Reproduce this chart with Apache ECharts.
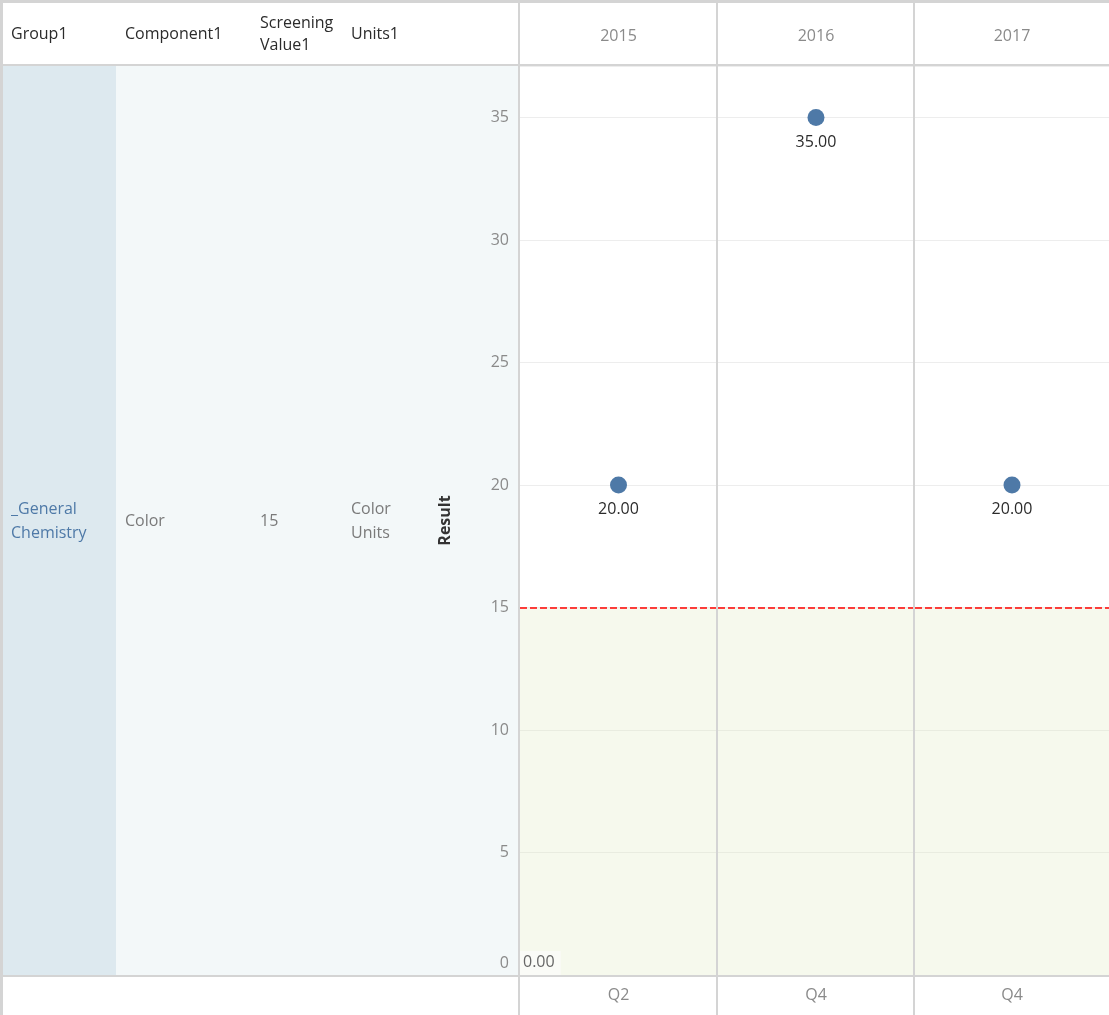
<!DOCTYPE html>
<html>
<head>
<meta charset="utf-8">
<title>Result by quarter</title>
<script src="https://cdn.jsdelivr.net/npm/echarts@6/dist/echarts.min.js"></script>
<style>
  html, body { margin: 0; padding: 0; background: #ffffff; }
  #chart { width: 1109px; height: 1015px; }
</style>
</head>
<body>
<div id="chart"></div>
<script>
// ---- data ----
const years = ['2015', '2016', '2017'];
const quarters = ['Q2', 'Q4', 'Q4'];
const results = [20, 35, 20];
const screeningValue = 15;
const bandMin = 0;

// table columns on the left
const headerLabels = ['Group1', 'Component1', 'Screening\nValue1', 'Units1'];
const rowValues = ['_General\nChemistry', 'Color', '15', 'Color\nUnits'];

// ---- layout ----
const FONT = '"Open Sans", sans-serif';
const W = 1109, H = 1015;
const TOP = 66, BOTTOM = 975;
const panelEdges = [519, 717, 914, 1109];
const Y_MAX = 37.1;

const chart = echarts.init(document.getElementById('chart'), null, { renderer: 'canvas' });

const grids = [], xAxes = [], yAxes = [], series = [];
for (let i = 0; i < years.length; i++) {
  const left = panelEdges[i] + 1;
  const width = panelEdges[i + 1] - left;
  grids.push({ left: left, top: TOP, width: width, height: BOTTOM - TOP, containLabel: false });

  // quarter along the bottom
  xAxes.push({
    type: 'category', gridIndex: i, position: 'bottom', data: [quarters[i]],
    axisLine: { show: false }, axisTick: { show: false }, splitLine: { show: false },
    axisLabel: { color: '#8a8a8a', fontFamily: FONT, fontSize: 16, margin: 20, verticalAlign: 'middle' }
  });
  // year along the top
  xAxes.push({
    type: 'category', gridIndex: i, position: 'top', data: [years[i]],
    axisLine: { show: false }, axisTick: { show: false }, splitLine: { show: false },
    axisLabel: { color: '#8a8a8a', fontFamily: FONT, fontSize: 16, margin: 30, verticalAlign: 'middle' }
  });

  const y = {
    type: 'value', gridIndex: i, min: 0, max: Y_MAX, interval: 5,
    axisLine: { show: false }, axisTick: { show: false },
    splitLine: { show: true, lineStyle: { color: '#ededed', width: 1 } },
    axisLabel: { show: false }
  };
  if (i === 0) {
    y.name = 'Result';
    y.nameLocation = 'middle';
    y.nameRotate = 90;
    y.nameGap = 67;
    y.nameTextStyle = { color: '#333333', fontFamily: FONT, fontSize: 16, fontWeight: 'bold' };
    y.axisLabel = {
      show: true, showMaxLabel: false, margin: 11,
      color: '#8a8a8a', fontFamily: FONT, fontSize: 16,
      formatter: v => (v === 0 ? '{z|0}' : String(v)),
      rich: { z: { color: '#8a8a8a', fontFamily: FONT, fontSize: 16, padding: [0, 0, 24, 0] } }
    };
  }
  yAxes.push(y);

  const bandLabel = i === 0
    ? { show: true, position: 'insideBottomLeft', distance: 0,
        formatter: bandMin.toFixed(2), color: '#666666', fontFamily: FONT, fontSize: 16,
        backgroundColor: '#fafbf7', padding: [3, 6, 5, 3] }
    : { show: false };

  series.push({
    type: 'scatter', xAxisIndex: 2 * i, yAxisIndex: i,
    data: [results[i]],
    symbol: 'circle', symbolSize: 17,
    itemStyle: { color: '#4e79a7', opacity: 1 },
    label: {
      show: true, position: 'bottom', distance: 8,
      formatter: p => p.value.toFixed(2),
      color: '#2b2b2b', fontFamily: FONT, fontSize: 16
    },
    markArea: {
      silent: true,
      itemStyle: { color: 'rgba(222,232,190,0.28)' },
      label: bandLabel,
      data: [[{ yAxis: bandMin }, { yAxis: screeningValue }]]
    },
    markLine: {
      silent: true, symbol: 'none',
      lineStyle: { color: '#ff0000', type: [7, 3], width: 1.5 },
      label: { show: false },
      data: [{ yAxis: screeningValue }]
    }
  });
}

// ---- table and frame drawn as graphics ----
const lineColor = '#d4d4d4';
const graphics = [
  // left table body backgrounds
  { type: 'rect', shape: { x: 116, y: TOP, width: panelEdges[0] - 116, height: BOTTOM - TOP }, style: { fill: '#f3f8f9' }, z: -10 },
  { type: 'rect', shape: { x: 0, y: TOP, width: 116, height: BOTTOM - TOP }, style: { fill: '#dde9ef' }, z: -10 },
  // frame lines
  { type: 'rect', shape: { x: 0, y: 0, width: W, height: 3 }, style: { fill: lineColor }, z: 50 },
  { type: 'rect', shape: { x: 0, y: 0, width: 3, height: H }, style: { fill: lineColor }, z: 50 },
  { type: 'rect', shape: { x: 0, y: 64, width: W, height: 2 }, style: { fill: lineColor }, z: 50 },
  { type: 'rect', shape: { x: 0, y: BOTTOM, width: W, height: 2 }, style: { fill: lineColor }, z: 50 }
];
// panel separators
panelEdges.slice(0, 3).forEach(x => {
  graphics.push({ type: 'rect', shape: { x: x - 1, y: 0, width: 2, height: H }, style: { fill: lineColor }, z: 50 });
});

// header texts
const headerX = [11, 125, 260, 351];
headerLabels.forEach((t, k) => {
  graphics.push({
    type: 'text', x: headerX[k], y: 34, z: 60,
    style: { text: t, fill: '#2b2b2b', fontFamily: FONT, fontSize: 16, fontWeight: 'normal',
             textVerticalAlign: 'middle', lineHeight: 22 }
  });
});
// row texts
const rowColors = ['#4e79a7', '#7a7a7a', '#7a7a7a', '#7a7a7a'];
rowValues.forEach((t, k) => {
  graphics.push({
    type: 'text', x: headerX[k], y: 521, z: 60,
    style: { text: t, fill: rowColors[k], fontFamily: FONT, fontSize: 16,
             textVerticalAlign: 'middle', lineHeight: 24 }
  });
});

chart.setOption({
  backgroundColor: '#ffffff',
  animation: false,
  grid: grids,
  xAxis: xAxes,
  yAxis: yAxes,
  series: series,
  graphic: graphics
});
</script>
</body>
</html>
